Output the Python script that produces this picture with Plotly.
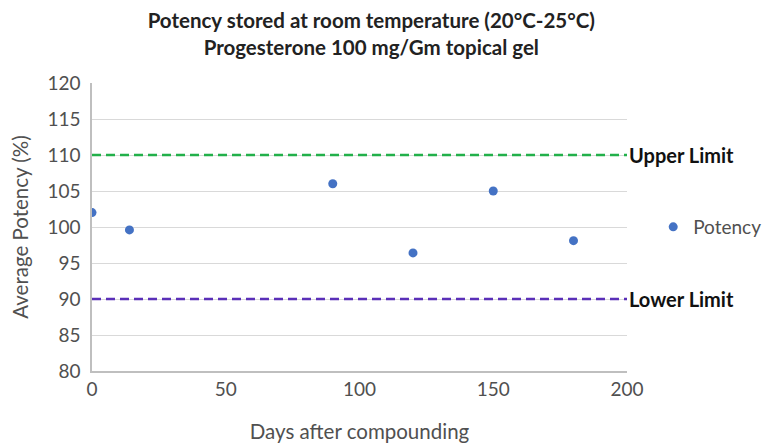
import plotly.graph_objects as go

days = [0, 14, 90, 120, 150, 180]
potency = [102, 99.6, 106, 96.4, 105, 98.1]
upper_limit = 110
lower_limit = 90
x_ticks = [0, 50, 100, 150, 200]
y_ticks = [80, 85, 90, 95, 100, 105, 110, 115, 120]

FONT = "Lato"
GRAY = "#505050"

fig = go.Figure()
fig.add_trace(go.Scatter(
    x=days, y=potency, mode="markers", name="Potency",
    marker=dict(color="#4472C4", size=9),
))

fig.add_shape(type="line", xref="x", yref="y", x0=0, x1=200, y0=upper_limit, y1=upper_limit,
              line=dict(color="#22B04A", width=2.5, dash="9px,5px"))
fig.add_shape(type="line", xref="x", yref="y", x0=0, x1=200, y0=lower_limit, y1=lower_limit,
              line=dict(color="#5A2FB8", width=2.5, dash="9px,5px"))

fig.add_annotation(x=1, xref="paper", y=upper_limit, yref="y", text="<b>Upper Limit</b>",
                   showarrow=False, xanchor="left", xshift=0,
                   font=dict(family=FONT, size=20, color="#111111"))
fig.add_annotation(x=1, xref="paper", y=lower_limit, yref="y", text="<b>Lower Limit</b>",
                   showarrow=False, xanchor="left", xshift=0,
                   font=dict(family=FONT, size=20, color="#111111"))

fig.update_layout(
    width=773, height=447,
    margin=dict(l=84, r=154, t=75, b=84, autoexpand=False),
    paper_bgcolor="white", plot_bgcolor="white",
    font=dict(family=FONT, size=19, color=GRAY),
    title=dict(
        text="<b>Potency stored at room temperature (20°C-25°C)<br>Progesterone 100 mg/Gm topical gel</b>",
        x=0.47, xanchor="center", yref="container", y=0.955, yanchor="top",
        font=dict(family=FONT, size=20.5, color="#222222"),
        automargin=False,
    ),
    xaxis=dict(
        range=[0, 200], tickvals=x_ticks, showgrid=False, zeroline=False,
        showline=True, linecolor="#BFBFBF", linewidth=1.5,
        ticks="", tickfont=dict(size=19, color=GRAY), automargin=False,
        title=dict(text="Days after compounding", font=dict(size=20.5, color=GRAY), standoff=26),
    ),
    yaxis=dict(
        range=[80, 120], tickvals=y_ticks, showgrid=True, gridcolor="#D9D9D9", gridwidth=1,
        zeroline=False, showline=True, linecolor="#BFBFBF", linewidth=1.5,
        ticks="", tickfont=dict(size=19, color=GRAY), automargin=False,
        ticklabelstandoff=6,
        title=dict(text="Average Potency (%)", font=dict(size=20.5, color=GRAY), standoff=14),
    ),
    showlegend=True,
    legend=dict(x=1.049, xanchor="left", y=0.5, yanchor="middle",
                font=dict(family=FONT, size=19, color=GRAY), bgcolor="rgba(0,0,0,0)"),
)

fig.write_html("out.html")
